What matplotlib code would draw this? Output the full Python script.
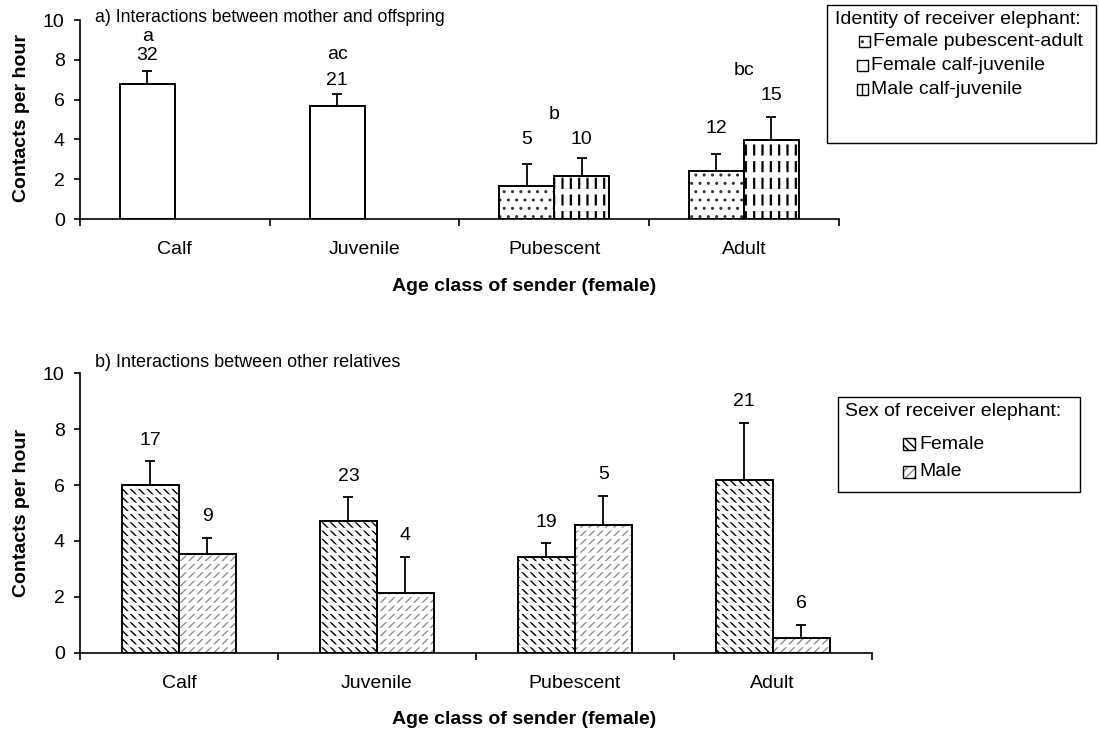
import numpy as np
import matplotlib
matplotlib.use("Agg")
import matplotlib.pyplot as plt
from matplotlib.patches import Rectangle

plt.rcParams['font.family'] = ['Liberation Sans', 'DejaVu Sans']

W, H = 1099, 730

ages = ["Calf", "Juvenile", "Pubescent", "Adult"]

# a) mother - offspring
a_left = [6.77, 5.69, 1.67, 2.41]
a_left_err = [0.65, 0.58, 1.09, 0.84]
a_left_n = ["32", "21", "5", "12"]
a_left_n_y = [8.24, 6.98, 3.97, 4.57]
a_right = [2.16, 3.98]          # pubescent, adult only
a_right_err = [0.92, 1.16]
a_right_n = ["10", "15"]
a_right_n_y = [4.02, 6.23]
letters = ["a", "ac", "b", "bc"]
letters_y = [9.15, 8.29, 5.23, 7.44]

# b) other relatives
b_female = [6.01, 4.72, 3.41, 6.18]
b_female_err = [0.84, 0.86, 0.50, 2.06]
b_female_n = ["17", "23", "19", "21"]
b_male = [3.53, 2.15, 4.57, 0.52]
b_male_err = [0.59, 1.29, 1.05, 0.48]
b_male_n = ["9", "4", "5", "6"]

FS = 14

DOTS = ".."
VDASH = "||"
FEM = "\\\\\\\\"
MAL = "////"
MAL_GREY = "#8f8f8f"


def fx(px):
    return px / W


def fy(py):
    return 1 - py / H


def bars(ax, x, h, w, hatch=None, hcolor="black", hlw=1.0,
         rows=None, rows_lw=2.0):
    if hatch:
        ax.bar(x, h, w, color="white", edgecolor=hcolor, hatch=hatch,
               linewidth=0, hatch_linewidth=hlw, zorder=2)
    else:
        ax.bar(x, h, w, color="white", linewidth=0, zorder=2)
    if rows:
        ax.bar(x, h, w, color="none", edgecolor="white", hatch=rows,
               linewidth=0, hatch_linewidth=rows_lw, zorder=3)
    ax.bar(x, h, w, color="none", edgecolor="black", linewidth=1.4, zorder=4)


def err(ax, x, y, e):
    ax.errorbar(x, y, yerr=[np.zeros(len(e)), e], fmt="none", ecolor="black",
                elinewidth=1.3, capsize=3.8, capthick=1.3, zorder=5)


def style(ax):
    ax.set_xlim(-0.5, 3.5)
    ax.set_ylim(0, 10)
    ax.set_yticks(range(0, 11, 2))
    ax.spines[["top", "right"]].set_visible(False)
    for s in ["left", "bottom"]:
        ax.spines[s].set_linewidth(1.2)
    ax.set_xticks(range(4))
    ax.set_xticklabels(ages)
    ax.set_xticks(np.arange(-0.5, 4, 1), minor=True)
    ax.tick_params(axis="x", which="major", length=0, pad=16, labelsize=FS)
    ax.tick_params(axis="x", which="minor", length=5, width=1.2)
    ax.tick_params(axis="y", length=4, width=1.2, labelsize=FS, pad=7)
    ax.set_facecolor("none")


fig = plt.figure(figsize=(W / 100, H / 100), dpi=100)

x = np.arange(4)

# ---- panel a ----
ax1 = fig.add_axes([fx(80), fy(219), fx(838.7) - fx(80), (219 - 20) / H])
style(ax1)
off = 0.145
wd = 0.29
bars(ax1, x[:2] - off, a_left[:2], wd)
bars(ax1, x[2:] - off, a_left[2:], wd, hatch=DOTS, hcolor="#333333")
bars(ax1, x[2:] + off, a_right, wd, hatch=VDASH, hcolor="black", hlw=1.6,
     rows="-", rows_lw=4.0)
err(ax1, x - off, a_left, a_left_err)
err(ax1, x[2:] + off, a_right, a_right_err)
for xi, t, ty in zip(x - off, a_left_n, a_left_n_y):
    ax1.text(xi, ty, t, ha="center", va="center", fontsize=FS)
for xi, t, ty in zip(x[2:] + off, a_right_n, a_right_n_y):
    ax1.text(xi, ty, t, ha="center", va="center", fontsize=FS)
letter_x = [0 - off, 1 - off, 2, 3]
for xi, t, ty in zip(letter_x, letters, letters_y):
    ax1.text(xi, ty, t, ha="center", va="center", fontsize=FS)
fig.text(fx(95), fy(18), "a) Interactions between mother and offspring",
         fontsize=12.7, va="center", ha="left")

# ---- panel b ----
ax2 = fig.add_axes([fx(80), fy(652.7), fx(871.7) - fx(80), (652.7 - 373.4) / H])
style(ax2)
off = 0.144
wd = 0.288
bars(ax2, x - off, b_female, wd, hatch=FEM, hcolor="black", hlw=1.0,
     rows="--", rows_lw=2.0)
bars(ax2, x + off, b_male, wd, hatch=MAL, hcolor=MAL_GREY, hlw=1.0,
     rows="--", rows_lw=2.0)
err(ax2, x - off, b_female, b_female_err)
err(ax2, x + off, b_male, b_male_err)
for xs, vals, es, ns in [(x - off, b_female, b_female_err, b_female_n),
                         (x + off, b_male, b_male_err, b_male_n)]:
    for xi, v, e, t in zip(xs, vals, es, ns):
        ax2.annotate(t, (xi, v + e), xytext=(0, 15), textcoords="offset points",
                     ha="center", va="center", fontsize=FS)
fig.text(fx(95), fy(362), "b) Interactions between other relatives",
         fontsize=13, va="center", ha="left")

# axis titles
for yc in (118, 513):
    fig.text(fx(22), fy(yc), "Contacts per hour", rotation=90, fontsize=FS,
             fontweight="bold", ha="center", va="center")
for yc in (286, 719):
    fig.text(fx(524), fy(yc), "Age class of sender (female)", fontsize=FS,
             fontweight="bold", ha="center", va="center")


# ---- legends ----
def frame(x0, y0, x1, y1):
    fig.add_artist(Rectangle((fx(x0), fy(y1)), fx(x1) - fx(x0), (y1 - y0) / H,
                             transform=fig.transFigure, facecolor="white",
                             edgecolor="black", linewidth=1.0))


def swatch(x0, yc, size, hatch=None, hcolor="black"):
    r = Rectangle((fx(x0), fy(yc + size / 2)), size / W, size / H,
                  transform=fig.transFigure, facecolor="white",
                  edgecolor=hcolor, linewidth=0, hatch=hatch)
    fig.add_artist(r)
    fig.add_artist(Rectangle((fx(x0), fy(yc + size / 2)), size / W, size / H,
                             transform=fig.transFigure, facecolor="none",
                             edgecolor="black", linewidth=1.0))


frame(827, 5, 1096, 143)
fig.text(fx(835), fy(20), "Identity of receiver elephant:", fontsize=FS,
         va="center")
leg_a = [("Female pubescent-adult", DOTS, "#333333", 859),
         ("Female calf-juvenile", None, "black", 857),
         ("Male calf-juvenile", VDASH, "black", 857)]
for (lab, hh, hc, mx), yc in zip(leg_a, (41, 65, 89)):
    swatch(mx, yc, 11, hh, hc)
    fig.text(fx(mx + 14), fy(yc), lab, fontsize=FS, va="center")

frame(838, 397, 1080, 492)
fig.text(fx(845), fy(412), "Sex of receiver elephant:", fontsize=FS,
         va="center")
leg_b = [("Female", FEM, "black"), ("Male", MAL, MAL_GREY)]
for (lab, hh, hc), yc in zip(leg_b, (444, 472)):
    swatch(903, yc, 12, hh, hc)
    fig.text(fx(919), fy(yc), lab, fontsize=FS, va="center")

fig.savefig("out.png", dpi=100)
